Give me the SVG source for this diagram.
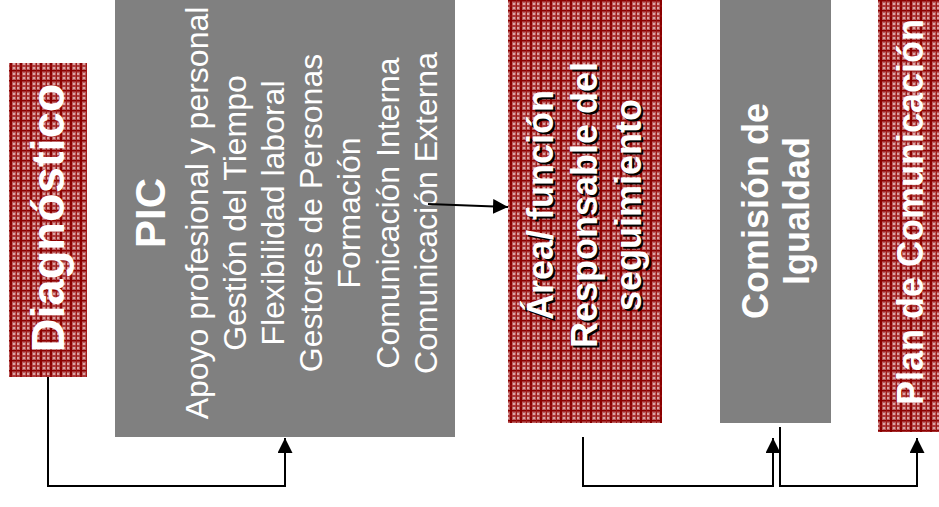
<svg xmlns="http://www.w3.org/2000/svg" width="939" height="507" viewBox="0 0 939 507">
<defs>
<pattern id="plaid" x="0" y="0" width="10" height="10" patternUnits="userSpaceOnUse">
<rect width="10" height="10" fill="#bb5e5e"/>
<rect x="3" y="3" width="2" height="2" fill="#dca4a4"/>
<rect x="7" y="3" width="2" height="2" fill="#dca4a4"/>
<rect x="3" y="7" width="2" height="2" fill="#dca4a4"/>
<rect x="7" y="7" width="2" height="2" fill="#dca4a4"/>
<rect x="0" y="0" width="2" height="10" fill="#8b0000"/>
<rect x="0" y="0" width="10" height="1.5" fill="#8b0000"/>
<rect x="6" y="0" width="1" height="10" fill="#a01818"/>
<rect x="0" y="5.5" width="10" height="1" fill="#a01818"/>
</pattern>
<marker id="arrow" viewBox="0 0 15 15" refX="15" refY="7.5" markerWidth="15" markerHeight="15" markerUnits="userSpaceOnUse" orient="auto">
<path d="M0,0 L15,7.5 L0,15 z" fill="#000"/>
</marker>
</defs>
<style>
.red{fill:url(#plaid);}
.gray{fill:#808080;}
.t{font-family:"Liberation Sans",Arial,sans-serif;fill:#fff;text-anchor:middle;}
.b{font-weight:bold;}
.sh{fill:#000;}
.conn{fill:none;stroke:#000;stroke-width:2;}
</style>
<rect width="939" height="507" fill="#fff"/>
<g id="diagnostico">
<rect class="red" x="9" y="63" width="78" height="314"/>
<text class="t b" font-size="47" transform="translate(64,218) rotate(-90)">Diagnóstico</text>
</g>
<g id="pic">
<rect class="gray" x="115" y="0" width="340" height="437"/>
<g class="t" font-size="32" transform="translate(0,213)">
<text class="t b" font-size="42" transform="translate(165,0) rotate(-90)">PIC</text>
<text transform="translate(208,0) rotate(-90)">Apoyo profesional y personal</text>
<text transform="translate(246,0) rotate(-90)">Gestión del Tiempo</text>
<text transform="translate(284,0) rotate(-90)">Flexibilidad laboral</text>
<text transform="translate(322,0) rotate(-90)">Gestores de Personas</text>
<text transform="translate(360,0) rotate(-90)">Formación</text>
<text transform="translate(399,0) rotate(-90)">Comunicación Interna</text>
<text transform="translate(437,0) rotate(-90)">Comunicación Externa</text>
</g>
</g>
<g id="area">
<rect class="red" x="508" y="0" width="154" height="423"/>
<g transform="translate(2,2)">
<text class="t b sh" font-size="36" transform="translate(553,205) rotate(-90)">Área/ función</text>
<text class="t b sh" font-size="36" transform="translate(597,205) rotate(-90)">Responsable del</text>
<text class="t b sh" font-size="36" transform="translate(641,205) rotate(-90)">seguimiento</text>
</g>
<text class="t b" font-size="36" transform="translate(553,205) rotate(-90)">Área/ función</text>
<text class="t b" font-size="36" transform="translate(597,205) rotate(-90)">Responsable del</text>
<text class="t b" font-size="36" transform="translate(641,205) rotate(-90)">seguimiento</text>
</g>
<g id="comision">
<rect class="gray" x="720" y="0" width="111" height="423"/>
<text class="t b" font-size="36" transform="translate(768,211) rotate(-90)">Comisión de</text>
<text class="t b" font-size="36" transform="translate(809,211) rotate(-90)">Igualdad</text>
</g>
<g id="plan">
<rect class="red" x="878" y="0" width="62" height="432"/>
<text class="t b" font-size="36" transform="translate(923,212) rotate(-90)">Plan de Comunicación</text>
</g>
<g id="connectors">
<path class="conn" d="M48,377 V486 H285 V438" marker-end="url(#arrow)"/>
<path class="conn" d="M428,204 L508,207" marker-end="url(#arrow)"/>
<path class="conn" d="M583,437 V486 H773 V438" marker-end="url(#arrow)"/>
<path class="conn" d="M780,427 V486 H917 V438" marker-end="url(#arrow)"/>
</g>
</svg>
